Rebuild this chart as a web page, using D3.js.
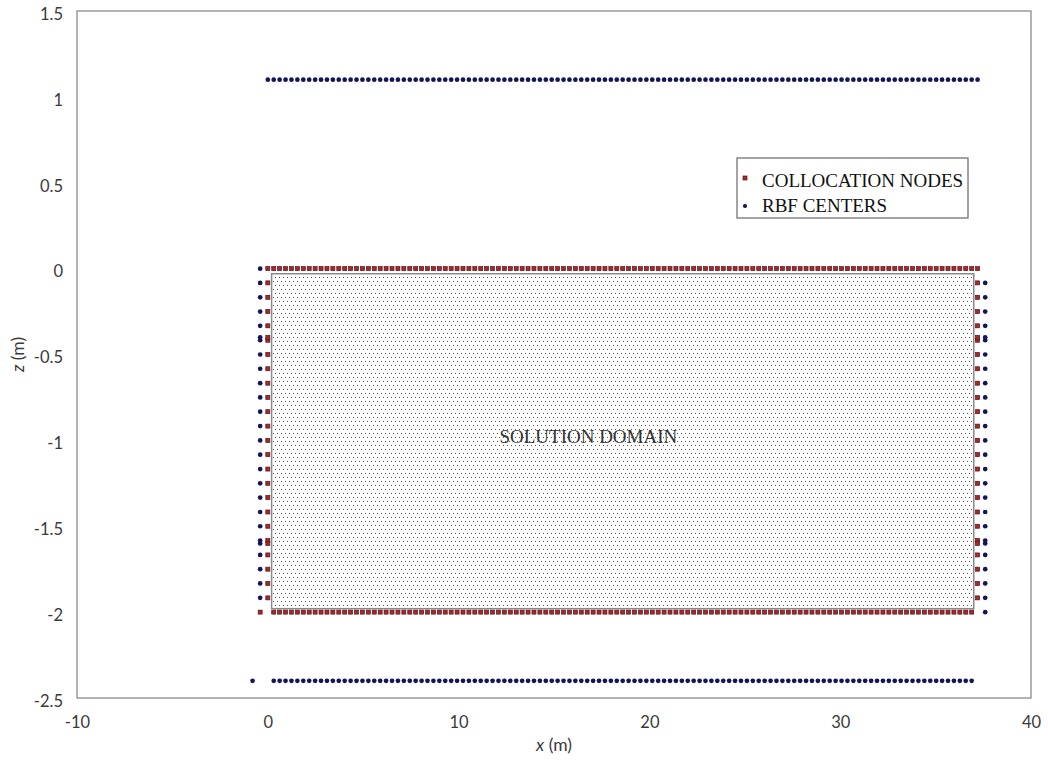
<!DOCTYPE html>
<html>
<head>
<meta charset="utf-8">
<script src="https://cdn.jsdelivr.net/npm/d3@7"></script>
<style>
  html, body { margin: 0; padding: 0; background: #fff; }
  svg { display: block; }
</style>
</head>
<body>
<svg id="chart" width="1048" height="760"></svg>
<script>
// Axis ticks
const xTicks = [-10, 0, 10, 20, 30, 40];
const zTicks = [1.5, 1, 0.5, 0, -0.5, -1, -1.5, -2, -2.5];

// Node stations along the free surface / bottom (m)
const stationX = [0, 0.31, 0.62, 0.93, 1.24, 1.55, 1.86, 2.17, 2.48, 2.79, 3.1, 3.41, 3.72, 4.03, 4.34, 4.65,
  4.96, 5.27, 5.58, 5.89, 6.2, 6.51, 6.82, 7.13, 7.44, 7.75, 8.06, 8.37, 8.68, 8.99, 9.3, 9.61, 9.92, 10.23,
  10.54, 10.85, 11.16, 11.47, 11.78, 12.09, 12.4, 12.71, 13.02, 13.33, 13.64, 13.95, 14.26, 14.57, 14.88,
  15.19, 15.5, 15.81, 16.12, 16.43, 16.74, 17.05, 17.36, 17.67, 17.98, 18.29, 18.6, 18.91, 19.22, 19.53,
  19.84, 20.15, 20.46, 20.77, 21.08, 21.39, 21.7, 22.01, 22.32, 22.63, 22.94, 23.25, 23.56, 23.87, 24.18,
  24.49, 24.8, 25.11, 25.42, 25.73, 26.04, 26.35, 26.66, 26.97, 27.28, 27.59, 27.9, 28.21, 28.52, 28.83,
  29.14, 29.45, 29.76, 30.07, 30.38, 30.69, 31, 31.31, 31.62, 31.93, 32.24, 32.55, 32.86, 33.17, 33.48,
  33.79, 34.1, 34.41, 34.72, 35.03, 35.34, 35.65, 35.96, 36.27, 36.58, 36.89, 37.2];

// Node stations along the side walls (m)
const stationZ = [0, -0.083, -0.167, -0.25, -0.333, -0.417, -0.5, -0.583, -0.667, -0.75, -0.833, -0.917,
  -1, -1.083, -1.167, -1.25, -1.333, -1.417, -1.5, -1.583, -1.667, -1.75, -1.833, -1.917, -2];

// Extra wall nodes
const extraZ = [-0.4, -1.6];

// Boundary positions (m)
const domainLeft = 0, domainRight = 37.2, domainTop = 0, domainBottom = -2;
const rbfLeft = -0.4, rbfRight = 37.6, rbfTop = 1.1, rbfBottom = -2.4;
const collocationCorner = [[-0.4, -2]];
const rbfCorner = [[-0.8, -2.4]];

// Assemble the two point sets
const collocation = [].concat(
  stationX.map(x => [x, domainTop]),
  stationX.slice(1, 120).map(x => [x, domainBottom]),
  collocationCorner,
  stationZ.slice(1, 24).map(z => [domainLeft, z]),
  stationZ.slice(1, 24).map(z => [domainRight, z]),
  extraZ.map(z => [domainLeft, z]),
  extraZ.map(z => [domainRight, z])
);
const rbfCenters = [].concat(
  stationX.map(x => [x, rbfTop]),
  stationX.slice(1, 120).map(x => [x, rbfBottom]),
  rbfCorner,
  stationZ.slice(0, 24).map(z => [rbfLeft, z]),
  stationZ.slice(1, 25).map(z => [rbfRight, z]),
  extraZ.map(z => [rbfLeft, z]),
  extraZ.map(z => [rbfRight, z])
);

const svg = d3.select('#chart');
const margin = { left: 77, top: 11, right: 17, bottom: 62 };
const W = 1048 - margin.left - margin.right;
const H = 760 - margin.top - margin.bottom;

const x = d3.scaleLinear().domain([-10, 40]).range([margin.left, margin.left + W]);
const y = d3.scaleLinear().domain([-2.5, 1.5]).range([margin.top + H, margin.top]);

const defs = svg.append('defs');
const pat = defs.append('pattern')
  .attr('id', 'stipple').attr('patternUnits', 'userSpaceOnUse')
  .attr('width', 8).attr('height', 8);
pat.append('rect').attr('width', 8).attr('height', 8).attr('fill', '#fff');
[[1, 1], [5, 1], [3, 5], [7, 5]].forEach(([px, py]) => {
  pat.append('rect').attr('x', px).attr('y', py).attr('width', 1).attr('height', 1).attr('fill', '#555');
});

// Plot frame
svg.append('rect')
  .attr('x', margin.left).attr('y', margin.top).attr('width', W).attr('height', H)
  .attr('fill', '#fff').attr('stroke', '#868686').attr('stroke-width', 1.25);

// Solution domain shape
const dom = { x0: 0.2, x1: 37.0, z0: -0.03, z1: -1.98 };
svg.append('rect')
  .attr('x', x(dom.x0)).attr('y', y(dom.z0))
  .attr('width', x(dom.x1) - x(dom.x0)).attr('height', y(dom.z1) - y(dom.z0))
  .attr('fill', 'url(#stipple)').attr('stroke', '#8a8a8a').attr('stroke-width', 1.5);

svg.append('text')
  .attr('x', x(16.8)).attr('y', y(-1.0) + 3)
  .attr('text-anchor', 'middle')
  .attr('font-family', '"Liberation Serif", "Times New Roman", serif')
  .attr('font-size', 19).attr('fill', '#333')
  .text('SOLUTION DOMAIN');

// Axes (labels only, no tick marks)
const axisFont = 'Lato, "Open Sans", sans-serif';
const xAxis = svg.append('g').attr('transform', `translate(0,${margin.top + H})`)
  .call(d3.axisBottom(x).tickValues(xTicks).tickFormat(d => String(d)).tickSize(0).tickPadding(18));
const yAxis = svg.append('g').attr('transform', `translate(${margin.left},0)`)
  .call(d3.axisLeft(y).tickValues(zTicks).tickFormat(d => String(d)).tickSize(0).tickPadding(14));
[xAxis, yAxis].forEach(g => {
  g.select('.domain').remove();
  g.selectAll('text').attr('font-family', axisFont).attr('font-size', 16.5).attr('fill', '#3a3a3a');
});
yAxis.selectAll('text').attr('dy', '0.5em');

// Axis titles
const xTitle = svg.append('text')
  .attr('x', x(15)).attr('y', 751).attr('text-anchor', 'middle')
  .attr('font-family', axisFont).attr('font-size', 17.5).attr('fill', '#3a3a3a');
xTitle.append('tspan').attr('font-style', 'italic').text('x');
xTitle.append('tspan').text(' (m)');

const zTitle = svg.append('text')
  .attr('transform', `translate(24,${y(-0.5)}) rotate(-90)`).attr('text-anchor', 'middle')
  .attr('font-family', axisFont).attr('font-size', 17.5).attr('fill', '#3a3a3a');
zTitle.append('tspan').attr('font-style', 'italic').text('z');
zTitle.append('tspan').text(' (m)');

// Markers
const sq = 4;
const redFill = '#a02a30', redEdge = '#5e1216';
const blueFill = '#14145a';

svg.append('g').selectAll('rect').data(collocation).join('rect')
  .attr('x', d => x(d[0]) - sq / 2).attr('y', d => y(d[1]) - sq / 2)
  .attr('width', sq).attr('height', sq)
  .attr('fill', redFill).attr('stroke', redEdge).attr('stroke-width', 0.7);

svg.append('g').selectAll('circle').data(rbfCenters).join('circle')
  .attr('cx', d => x(d[0])).attr('cy', d => y(d[1])).attr('r', 2.35)
  .attr('fill', blueFill);

// Legend
const lg = svg.append('g').attr('transform', 'translate(737,158)');
lg.append('rect').attr('width', 231).attr('height', 60)
  .attr('fill', '#fff').attr('stroke', '#6e6e6e').attr('stroke-width', 1.25);
lg.append('rect').attr('x', 8 - sq / 2).attr('y', 20 - sq / 2).attr('width', sq).attr('height', sq)
  .attr('fill', redFill).attr('stroke', redEdge).attr('stroke-width', 0.7);
lg.append('circle').attr('cx', 8).attr('cy', 48).attr('r', 2.1).attr('fill', blueFill);
const legendFont = '"Liberation Serif", "Times New Roman", serif';
lg.append('text').attr('x', 25).attr('y', 29)
  .attr('font-family', legendFont).attr('font-size', 19).attr('fill', '#111')
  .text('COLLOCATION NODES');
lg.append('text').attr('x', 25).attr('y', 54)
  .attr('font-family', legendFont).attr('font-size', 19).attr('fill', '#111')
  .text('RBF CENTERS');
</script>
</body>
</html>
